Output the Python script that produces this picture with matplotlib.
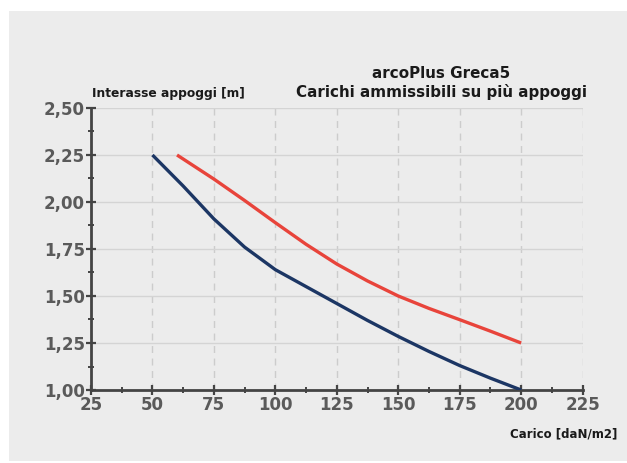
import matplotlib
matplotlib.use('Agg')
import matplotlib.pyplot as plt
from matplotlib.patches import Rectangle
from matplotlib.ticker import MultipleLocator, FuncFormatter

# values
carico_blu = [50, 62.5, 75, 87.5, 100, 112.5, 125, 137.5, 150, 162.5, 175, 187.5, 200]
interasse_blu = [2.25, 2.085, 1.91, 1.76, 1.64, 1.55, 1.46, 1.37, 1.285, 1.205, 1.13, 1.063, 1.00]
carico_rosso = [60, 75, 87.5, 100, 112.5, 125, 137.5, 150, 162.5, 175, 187.5, 200]
interasse_rosso = [2.25, 2.122, 2.008, 1.89, 1.775, 1.67, 1.58, 1.50, 1.434, 1.374, 1.313, 1.25]

titolo = 'arcoPlus Greca5\nCarichi ammissibili su più appoggi'
label_y = 'Interasse appoggi [m]'
label_x = 'Carico [daN/m2]'

bg = '#ececec'
fig = plt.figure(figsize=(6.27, 4.63), dpi=100, facecolor='white')
# grey panel with a thin white border at top and left
fig.patches.append(Rectangle((9 / 627, 0.004), 1, 1 - 11 / 463 - 0.004,
                             transform=fig.transFigure, facecolor=bg,
                             edgecolor='none', zorder=-10))

ax = fig.add_axes([91 / 627, 1 - 390 / 463, 491.6 / 627, 282 / 463])
ax.set_facecolor(bg)

ax.plot(carico_blu, interasse_blu, color='#1c3664', lw=2.4, solid_capstyle='butt',
        solid_joinstyle='round', zorder=3)
ax.plot(carico_rosso, interasse_rosso, color='#e8443b', lw=2.4, solid_capstyle='butt',
        solid_joinstyle='round', zorder=3)

ax.set_xlim(25, 225)
ax.set_ylim(1.0, 2.5)
ax.xaxis.set_major_locator(MultipleLocator(25))
ax.xaxis.set_minor_locator(MultipleLocator(12.5))
ax.yaxis.set_major_locator(MultipleLocator(0.25))
ax.yaxis.set_minor_locator(MultipleLocator(0.125))
ax.yaxis.set_major_formatter(FuncFormatter(lambda v, p: f'{v:.2f}'.replace('.', ',')))

for s in ['top', 'right']:
    ax.spines[s].set_visible(False)
for s in ['left', 'bottom']:
    ax.spines[s].set_color('#444444')
    ax.spines[s].set_linewidth(2)

ax.tick_params(which='major', direction='inout', length=7, width=1.6, color='#444444',
               labelsize=12, labelcolor='#5a5a5a', pad=1)
ax.tick_params(which='minor', direction='inout', length=4, width=1.4, color='#444444')
for lab in ax.get_xticklabels() + ax.get_yticklabels():
    lab.set_fontweight('bold')

ax.grid(axis='y', which='major', color='#d4d4d4', lw=1, ls='-', zorder=1)
ax.grid(axis='x', which='major', color='#cccccc', lw=1, ls=(0, (5, 4)), zorder=1)
ax.set_axisbelow(True)

fig.text(92 / 627, 1 - 93 / 463, label_y, fontsize=8.85, fontweight='bold',
         color='#1a1a1a', ha='left', va='center')
fig.text(441 / 627, 1 - 83 / 463, titolo, fontsize=10.9, fontweight='bold',
         color='#1a1a1a', ha='center', va='center', linespacing=1.25)
fig.text(617 / 627, 1 - 434 / 463, label_x, fontsize=8.5, fontweight='bold',
         color='#1a1a1a', ha='right', va='center')

fig.savefig('out.png', dpi=100, facecolor='white')
